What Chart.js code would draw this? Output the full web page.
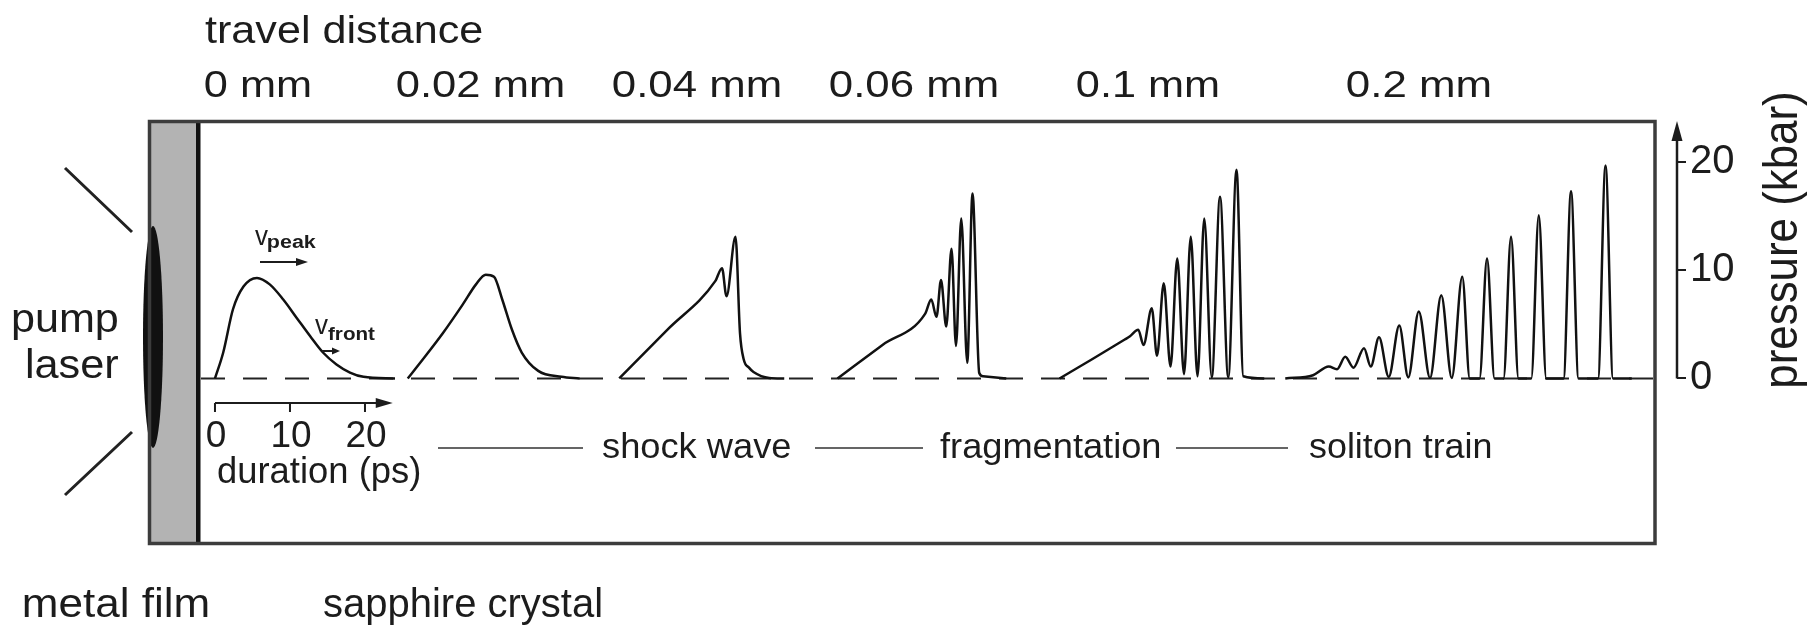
<!DOCTYPE html>
<html>
<head>
<meta charset="utf-8">
<script src="https://cdn.jsdelivr.net/npm/chart.js@4.4.0/dist/chart.umd.min.js"></script>
<style>
  html, body { margin: 0; padding: 0; background: #fff; }
  canvas { display: block; }
</style>
</head>
<body>
<canvas id="pulseCanvas" width="1812" height="629"></canvas>
<script>

// travel distance written above each pressure profile
var distanceLabels = ["0 mm", "0.02 mm", "0.04 mm", "0.06 mm", "0.1 mm", "0.2 mm"];
// where each profile sits on the common time axis (ps)
var pulseStart = [0, 25.7, 53.9, 83.0, 112.6, 142.7];

// pressure profiles: time since profile start (ps) / pressure (kbar)
var pulse1Time     = [0, 1.1, 2.4, 3.8, 5.6, 7.3, 9.1, 10.9, 12.7, 14.4, 16.2, 18.0, 19.8, 24.0];
var pulse1Pressure = [0, 2.4, 6.4, 8.5, 9.3, 8.7, 7.3, 5.6, 3.9, 2.4, 1.3, 0.55, 0.15, 0];

var pulse2Time     = [0, 2.0, 4.7, 7.3, 9.1, 10.4, 11.5, 12.6, 13.9, 15.2, 17.4, 20.5, 22.9];
var pulse2Pressure = [0, 1.75, 4.2, 6.8, 8.7, 9.6, 9.4, 7.3, 4.5, 2.4, 0.7, 0.15, 0];

var pulse3Time     = [0, 6.4, 12.8, 13.7, 14.3, 15.5, 16.1, 16.6, 17.3, 17.9, 20.0, 22.0];
var pulse3Pressure = [0, 4.5, 9.0, 10.2, 7.6, 13.1, 4.2, 1.75, 1.0, 0.6, 0.05, 0];

var pulse4Time     = [0, 6.0, 11.7, 12.5, 13.2, 13.8, 14.5, 15.2, 15.8, 16.5, 17.3, 18.0, 18.9, 19.4, 22.5];
var pulse4Pressure = [0, 3.1, 6.0, 7.3, 5.7, 9.1, 4.8, 12.0, 3.0, 14.8, 1.45, 17.1, 0.5, 0.2, 0];

var pulse5Time     = [0, 4.4, 8.7, 9.4, 10.5, 11.2, 12.3, 13.0, 13.9, 14.8, 15.7, 16.6, 17.5, 18.4, 19.3, 20.3, 21.4, 22.5, 23.6, 24.5, 27.3];
var pulse5Pressure = [0, 1.8, 3.6, 3.9, 4.5, 3.1, 6.5, 2.1, 8.8, 1.1, 11.1, 0.4, 13.1, 0.2, 14.8, 0.1, 16.8, 0.1, 19.3, 0.2, 0];

var pulse6Time     = [0, 3.7, 5.8, 6.9, 8.0, 9.1, 10.5, 11.4, 12.5, 13.8, 15.2, 16.4, 17.8, 19.3, 20.8, 22.2, 23.6, 24.6, 25.9, 26.9, 27.9, 29.1, 30.1, 31.1, 32.8, 33.8, 34.8, 37.1, 38.1, 39.1, 41.7, 42.7, 43.7, 46.2];
var pulse6Pressure = [0, 0.3, 1.1, 0.85, 2.0, 1.0, 2.8, 1.1, 3.8, 0.15, 4.9, 0.1, 6.2, 0.05, 7.7, 0.05, 9.4, 0, 0, 11.1, 0, 0, 13.1, 0, 0, 15.1, 0, 0, 17.3, 0, 0, 19.7, 0, 0];

var pressureTicks = [0, 10, 20];
var durationTicks = [0, 10, 20];
var durationAxisEnd = 23.7;
var stageLabels = ["shock wave", "fragmentation", "soliton train"];

var pulseTimes = [pulse1Time, pulse2Time, pulse3Time, pulse4Time, pulse5Time, pulse6Time];
var pulsePressures = [pulse1Pressure, pulse2Pressure, pulse3Pressure, pulse4Pressure, pulse5Pressure, pulse6Pressure];

var FONT = '"Liberation Sans", Arial, Helvetica, sans-serif';
var INK = "#1c1c1c";

// draw text so its ink spans [left, left+inkWidth]
function fitText(ctx, str, left, baseline, size, inkWidth, weight) {
    ctx.save();
    ctx.font = (weight || "normal") + " " + size + "px " + FONT;
    ctx.textAlign = "left";
    ctx.textBaseline = "alphabetic";
    var m = ctx.measureText(str);
    var w = m.actualBoundingBoxLeft + m.actualBoundingBoxRight;
    var sx = inkWidth / w;
    ctx.translate(left + m.actualBoundingBoxLeft * sx, baseline);
    ctx.scale(sx, 1);
    ctx.fillStyle = INK;
    ctx.fillText(str, 0, 0);
    ctx.restore();
}

function plainText(ctx, str, x, baseline, size, align) {
    ctx.save();
    ctx.font = size + "px " + FONT;
    ctx.textAlign = align;
    ctx.textBaseline = "alphabetic";
    ctx.fillStyle = INK;
    ctx.fillText(str, x, baseline);
    ctx.restore();
}

function arrow(ctx, x1, y1, x2, y2, head, half, width) {
    var a = Math.atan2(y2 - y1, x2 - x1);
    ctx.save();
    ctx.strokeStyle = INK;
    ctx.fillStyle = INK;
    ctx.lineWidth = width;
    ctx.beginPath();
    ctx.moveTo(x1, y1);
    ctx.lineTo(x2 - Math.cos(a) * head * 0.8, y2 - Math.sin(a) * head * 0.8);
    ctx.stroke();
    ctx.translate(x2, y2);
    ctx.rotate(a);
    ctx.beginPath();
    ctx.moveTo(0, 0);
    ctx.lineTo(-head, -half);
    ctx.lineTo(-head, half);
    ctx.closePath();
    ctx.fill();
    ctx.restore();
}

var figurePlugin = {
    id: "figureDecor",
    beforeDatasetsDraw: function(chart) {
        var ctx = chart.ctx;
        var area = chart.chartArea;
        var y = chart.scales.y;
        var y0 = y.getPixelForValue(0);
        var boxRight = 1655;

        ctx.save();
        // metal film
        ctx.fillStyle = "#b3b3b3";
        ctx.fillRect(area.left, area.top, 50, area.bottom - area.top);
        ctx.fillStyle = "#111";
        ctx.fillRect(196, area.top, 4.5, area.bottom - area.top);

        // laser spot
        ctx.beginPath();
        ctx.ellipse(153, 337, 10, 111, 0, 0, Math.PI * 2);
        ctx.fill();

        // crystal outline
        ctx.strokeStyle = "#3c3c3c";
        ctx.lineWidth = 3.5;
        ctx.strokeRect(area.left + 1.5, area.top + 1.5, boxRight - area.left - 1.5, area.bottom - area.top - 3);

        // incoming laser lines
        ctx.strokeStyle = "#222";
        ctx.lineWidth = 3;
        ctx.beginPath();
        ctx.moveTo(65, 168); ctx.lineTo(132, 232);
        ctx.moveTo(132, 432); ctx.lineTo(65, 495);
        ctx.stroke();

        // zero-pressure reference
        ctx.lineWidth = 2;
        ctx.setLineDash([24, 18]);
        ctx.beginPath();
        ctx.moveTo(201, y0);
        ctx.lineTo(boxRight, y0);
        ctx.stroke();
        ctx.setLineDash([]);
        ctx.restore();

        // pressure axis line with arrow
        arrow(ctx, area.right, y0, area.right, area.top + 1, 20, 5.5, 2.5);
    },
    afterDatasetsDraw: function(chart) {
        var ctx = chart.ctx;
        var x = chart.scales.x;

        fitText(ctx, "travel distance", 205, 43, 38, 277);

        var distLeft = [205, 397, 613, 830, 1077, 1347];
        var distRight = [310, 563, 780, 997, 1218, 1490];
        for (var i = 0; i < distanceLabels.length; i++) {
            fitText(ctx, distanceLabels[i], distLeft[i], 97, 37, distRight[i] - distLeft[i]);
        }

        fitText(ctx, "pump", 13, 332, 41, 105);
        fitText(ctx, "laser", 27, 378, 41, 91);
        fitText(ctx, "metal film", 24, 617, 41, 184);
        fitText(ctx, "sapphire crystal", 324, 617, 41, 277);

        // duration scale bar
        var barY = 403;
        arrow(ctx, x.getPixelForValue(0), barY, x.getPixelForValue(durationAxisEnd), barY, 17, 5, 2.2);
        ctx.save();
        ctx.strokeStyle = INK;
        ctx.lineWidth = 2;
        ctx.beginPath();
        durationTicks.forEach(function(t) {
            var px = x.getPixelForValue(t);
            ctx.moveTo(px, barY);
            ctx.lineTo(px, barY + 9);
        });
        ctx.stroke();
        ctx.restore();
        durationTicks.forEach(function(t) {
            plainText(ctx, String(t), x.getPixelForValue(t) + 1, 447, 37, "center");
        });
        fitText(ctx, "duration (ps)", 218, 483, 37, 202);

        // velocity markers
        fitText(ctx, "v", 255, 245, 28, 13);
        fitText(ctx, "peak", 268, 248, 18, 49, "bold");
        arrow(ctx, 260, 262, 308, 262, 12, 4, 2.2);
        fitText(ctx, "v", 315, 334, 28, 13);
        fitText(ctx, "front", 328, 340, 18, 47, "bold");
        arrow(ctx, 322, 351, 340, 351, 8, 3.5, 2);

        // stages
        var lineSeg = [[438, 583], [815, 923], [1176, 1288]];
        var stageLeft = [602, 940, 1309];
        var stageRight = [790, 1160, 1491];
        ctx.save();
        ctx.strokeStyle = "#333";
        ctx.lineWidth = 1.6;
        ctx.beginPath();
        lineSeg.forEach(function(s) { ctx.moveTo(s[0], 448); ctx.lineTo(s[1], 448); });
        ctx.stroke();
        ctx.restore();
        for (var k = 0; k < stageLabels.length; k++) {
            fitText(ctx, stageLabels[k], stageLeft[k], 458, 35, stageRight[k] - stageLeft[k]);
        }

        // pressure axis title, read bottom to top
        ctx.save();
        ctx.font = "43px " + FONT;
        var m = ctx.measureText("pressure (kbar)");
        var sx = 293 / (m.actualBoundingBoxLeft + m.actualBoundingBoxRight);
        ctx.translate(1797, 240);
        ctx.rotate(-Math.PI / 2);
        ctx.scale(sx, 1.12);
        ctx.textAlign = "center";
        ctx.fillStyle = INK;
        ctx.fillText("pressure (kbar)", 0, 0);
        ctx.restore();
    }
};

var datasets = [];
for (var i = 0; i < pulseTimes.length; i++) {
    var pts = [];
    for (var k = 0; k < pulseTimes[i].length; k++) {
        pts.push({ x: pulseStart[i] + pulseTimes[i][k], y: pulsePressures[i][k] });
    }
    datasets.push({
        label: distanceLabels[i],
        data: pts,
        borderColor: "#111",
        borderWidth: 2.5,
        pointRadius: 0,
        fill: false,
        cubicInterpolationMode: "monotone"
    });
}

var canvas = document.getElementById("pulseCanvas");

new Chart(canvas, {
    type: "line",
    data: { datasets: datasets },
    options: {
        responsive: false,
        maintainAspectRatio: false,
        devicePixelRatio: 1,
        animation: false,
        events: [],
        layout: { padding: { left: 148, top: 120, right: 0, bottom: 84 } },
        plugins: { legend: { display: false }, tooltip: { enabled: false } },
        scales: {
            x: { type: "linear", display: false, min: -8.93, max: 194.93 },
            y: {
                type: "linear",
                position: "right",
                min: -15.4,
                max: 23.9,
                afterBuildTicks: function(scale) {
                    scale.ticks = pressureTicks.map(function(v) { return { value: v }; });
                },
                afterFit: function(scale) { scale.width = 135; },
                border: { display: false },
                grid: { drawOnChartArea: false, drawTicks: true, tickLength: 9, color: INK, lineWidth: 2 },
                ticks: {
                    padding: 4,
                    color: INK,
                    font: { family: "Liberation Sans", size: 40 },
                    callback: function(v) { return String(v); }
                }
            }
        }
    },
    plugins: [figurePlugin]
});

</script>
</body>
</html>
